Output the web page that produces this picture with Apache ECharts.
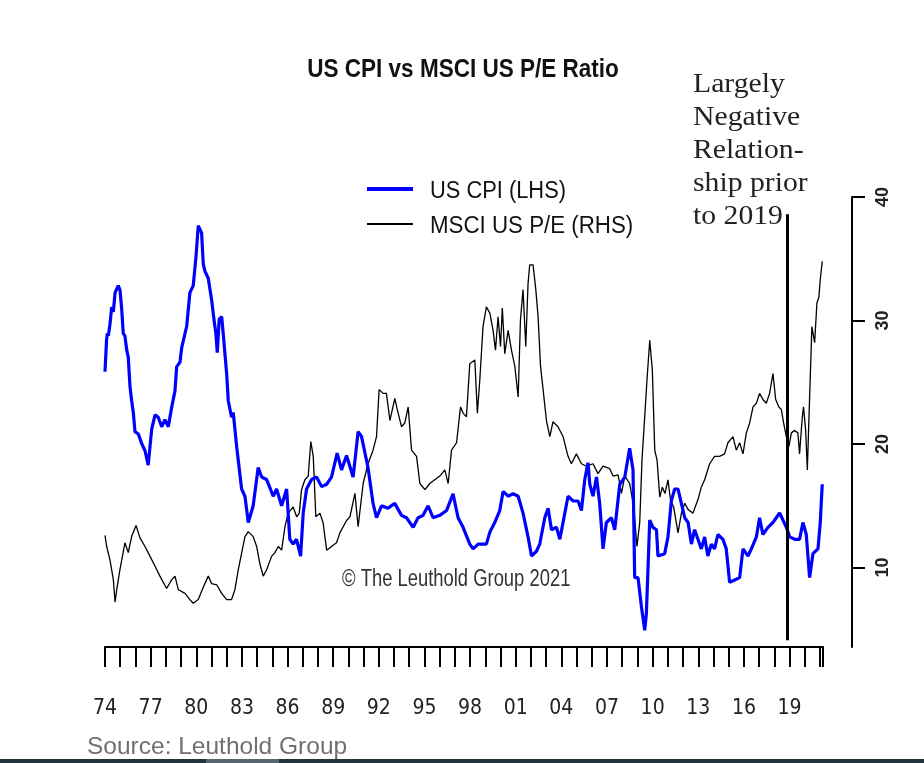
<!DOCTYPE html>
<html><head><meta charset="utf-8">
<script src="https://cdn.jsdelivr.net/npm/echarts@6/dist/echarts.min.js"></script>
<style>html,body{margin:0;padding:0;background:#fff}#c{width:924px;height:763px}</style>
</head><body><div id="c"></div>
<script>
// ---- data ----
const xLabelYears = [1974,1977,1980,1983,1986,1989,1992,1995,1998,2001,2004,2007,2010,2013,2016,2019];
const rightTicks = [10,20,30,40];
const dividerYear = 2018.85;
const dividerRange = [38.6, 4.1];
const seriesNames = ['US CPI (LHS)', 'MSCI US P/E (RHS)'];

const cpiYears = [1974.0,1974.1,1974.15,1974.22,1974.33,1974.44,1974.55,1974.66,1974.87,1974.99,1975.10,1975.20,1975.31,1975.43,1975.53,1975.64,1975.75,1975.86,1975.97,1976.19,1976.41,1976.63,1976.84,1977.07,1977.29,1977.50,1977.73,1977.94,1978.16,1978.38,1978.60,1978.71,1978.93,1979.04,1979.37,1979.58,1979.80,1979.98,1980.13,1980.35,1980.46,1980.57,1980.79,1981.01,1981.16,1981.29,1981.38,1981.51,1981.67,1981.77,1982.00,1982.10,1982.32,1982.43,1982.65,1982.98,1983.20,1983.42,1983.74,1984.07,1984.30,1984.62,1985.06,1985.28,1985.61,1985.94,1986.15,1986.37,1986.59,1986.86,1987.03,1987.25,1987.58,1987.91,1988.24,1988.57,1988.89,1989.26,1989.55,1989.88,1990.31,1990.64,1990.86,1991.29,1991.62,1991.85,1992.18,1992.61,1993.05,1993.49,1993.82,1994.26,1994.58,1994.91,1995.24,1995.57,1996.01,1996.45,1996.88,1997.21,1997.54,1997.98,1998.20,1998.53,1999.07,1999.30,1999.62,1999.95,2000.17,2000.50,2000.83,2001.16,2001.48,2001.81,2002.04,2002.36,2002.58,2002.91,2003.13,2003.35,2003.68,2003.90,2004.11,2004.44,2004.77,2005.10,2005.32,2005.54,2005.75,2005.87,2006.08,2006.31,2006.52,2006.74,2006.96,2007.29,2007.51,2007.84,2008.17,2008.49,2008.71,2008.82,2009.04,2009.26,2009.48,2009.59,2009.81,2010.02,2010.25,2010.35,2010.79,2011.01,2011.23,2011.45,2011.67,2011.89,2012.11,2012.33,2012.55,2012.76,2012.98,2013.20,2013.42,2013.63,2013.86,2014.07,2014.29,2014.62,2014.84,2015.06,2015.39,2015.72,2015.94,2016.27,2016.49,2016.82,2017.03,2017.25,2017.58,2017.91,2018.13,2018.35,2018.57,2018.79,2019.01,2019.34,2019.66,2019.88,2020.10,2020.32,2020.54,2020.87,2021.02,2021.15];
const cpiValues = [8.8,10.1,10.4,10.3,10.8,11.5,11.3,12.1,12.4,12.2,11.4,10.4,10.3,9.7,9.4,8.2,7.6,7.1,6.3,6.2,5.8,5.5,4.9,6.4,7.0,6.9,6.5,6.8,6.5,7.3,8.0,9.0,9.2,9.8,10.7,12.1,12.4,13.6,14.9,14.6,13.3,13.0,12.7,11.8,11.0,10.4,9.6,11.0,11.1,10.4,8.7,7.6,6.9,7.1,5.7,3.9,3.6,2.5,3.2,4.8,4.4,4.3,3.6,3.9,3.2,3.9,1.8,1.6,1.8,1.1,2.9,3.9,4.3,4.4,4.0,4.1,4.4,5.4,4.7,5.3,4.4,6.3,6.1,4.8,3.3,2.7,3.2,3.1,3.3,2.8,2.7,2.3,2.7,2.8,3.2,2.7,2.8,3.0,3.7,2.7,2.3,1.6,1.4,1.6,1.6,2.1,2.5,3.0,3.8,3.6,3.7,3.6,2.9,1.9,1.1,1.3,1.6,2.7,3.1,2.2,2.3,1.8,2.5,3.6,3.4,3.4,3.0,4.3,5.0,4.1,3.6,4.4,3.3,1.4,2.5,2.7,2.2,4.1,4.4,5.6,4.7,0.2,0.2,-1.0,-2.0,-1.3,2.6,2.3,2.2,1.1,1.2,1.9,3.4,3.9,3.9,3.3,2.7,2.5,1.6,2.2,1.8,1.4,1.9,1.1,1.6,1.4,2.0,1.8,1.4,0.0,0.1,0.2,1.4,1.1,1.4,1.9,2.7,2.0,2.3,2.5,2.7,2.9,2.6,2.3,1.9,1.8,1.8,2.5,2.0,0.2,1.2,1.4,2.5,4.1];

const peYears = [1974.0,1974.11,1974.33,1974.55,1974.66,1974.77,1974.98,1975.31,1975.53,1975.75,1976.04,1976.30,1976.63,1976.96,1977.29,1977.61,1978.05,1978.38,1978.60,1978.82,1979.26,1979.58,1979.80,1980.13,1980.46,1980.79,1981.01,1981.34,1981.67,1982.00,1982.32,1982.54,1982.76,1983.20,1983.42,1983.74,1983.97,1984.18,1984.40,1984.62,1984.95,1985.17,1985.39,1985.61,1985.83,1986.04,1986.37,1986.60,1986.77,1986.92,1987.14,1987.36,1987.53,1987.69,1987.86,1988.13,1988.34,1988.57,1988.89,1989.22,1989.44,1989.88,1990.10,1990.43,1990.64,1990.97,1991.29,1991.62,1991.85,1992.02,1992.28,1992.50,1992.73,1993.05,1993.27,1993.49,1993.71,1993.93,1994.15,1994.48,1994.70,1995.03,1995.35,1995.68,1996.01,1996.34,1996.56,1996.78,1997.11,1997.37,1997.54,1997.76,1997.98,1998.31,1998.48,1998.64,1998.85,1999.07,1999.30,1999.51,1999.67,1999.84,2000.00,2000.12,2000.28,2000.50,2000.72,2000.94,2001.16,2001.31,2001.48,2001.66,2001.81,2001.92,2002.14,2002.32,2002.47,2002.63,2002.80,2003.02,2003.24,2003.45,2003.78,2004.11,2004.44,2004.66,2004.99,2005.32,2005.65,2006.08,2006.41,2006.74,2007.18,2007.40,2007.73,2007.95,2008.17,2008.49,2008.76,2008.97,2009.15,2009.30,2009.48,2009.63,2009.81,2009.98,2010.14,2010.29,2010.47,2010.64,2010.81,2011.01,2011.17,2011.38,2011.67,2011.89,2012.11,2012.33,2012.65,2012.98,2013.20,2013.42,2013.75,2014.07,2014.40,2014.73,2014.95,2015.28,2015.50,2015.72,2015.94,2016.16,2016.38,2016.60,2016.82,2017.03,2017.25,2017.47,2017.69,2017.91,2018.09,2018.30,2018.46,2018.61,2018.79,2018.96,2019.12,2019.34,2019.55,2019.66,2019.84,2019.92,2020.06,2020.17,2020.32,2020.47,2020.65,2020.80,2020.93,2021.02,2021.15];
const peValues = [12.6,11.7,10.6,9.0,7.2,8.2,9.8,12.0,11.2,12.5,13.4,12.4,11.7,10.9,10.1,9.3,8.3,9.0,9.3,8.2,7.9,7.4,7.1,7.4,8.4,9.3,8.7,8.6,7.9,7.4,7.4,8.2,9.8,12.5,12.9,12.5,11.7,10.3,9.3,9.8,10.9,11.2,11.7,11.4,13.3,14.4,14.9,14.1,14.4,16.3,17.1,17.4,20.2,19.0,14.1,14.4,13.6,11.4,11.7,12.0,12.8,13.8,14.1,16.0,13.3,16.8,18.4,19.5,20.6,24.4,24.1,24.1,21.9,23.7,22.5,21.4,21.7,23.0,19.5,19.0,16.8,16.3,16.8,17.1,17.4,17.9,16.8,19.5,20.1,23.0,22.5,22.2,26.5,26.8,22.5,25.2,29.5,31.1,30.6,29.2,27.6,30.3,27.9,31.0,27.3,29.2,27.6,26.3,23.8,30.0,32.5,27.9,33.0,34.5,34.5,32.5,30.3,26.3,24.4,21.9,20.6,21.8,21.4,20.6,19.0,18.4,19.2,18.4,18.2,18.4,17.6,18.2,18.0,17.4,17.5,16.0,17.4,16.8,14.9,11.7,13.6,18.7,22.2,25.2,28.4,26.0,19.5,18.7,15.7,16.5,16.0,17.1,15.5,14.9,12.8,14.4,15.2,14.7,14.4,15.5,16.5,17.1,18.4,19.0,19.0,19.2,20.1,20.6,19.5,20.1,19.2,20.9,21.7,23.0,23.3,24.1,23.6,23.3,24.1,25.7,23.6,23.0,22.8,21.7,20.6,19.8,20.9,21.1,20.9,19.2,22.2,23.0,21.1,17.9,23.8,29.5,28.2,31.4,31.9,33.3,34.8];

// ---- chart ----
const SANS = "'Liberation Sans',Arial,sans-serif";
const NARROW = "'DejaVu Sans Condensed','Liberation Sans',sans-serif";
const chart = echarts.init(document.getElementById('c'), null, {renderer: 'canvas'});
const pair = (xs, ys) => xs.map((x, i) => [x, ys[i]]);

chart.setOption({
  backgroundColor: '#fff',
  animation: false,
  grid: {left: 105, right: 101, top: 197, bottom: 116},
  xAxis: {
    type: 'value', min: 1974, max: 2021.2, interval: 1,
    axisLine: {onZero: false, lineStyle: {color: '#000', width: 2}},
    axisTick: {length: 20, lineStyle: {color: '#000', width: 2}},
    splitLine: {show: false},
    axisLabel: {
      margin: 51, fontFamily: NARROW, fontSize: 21, color: '#222',
      formatter: v => xLabelYears.includes(v) ? String(v % 100).padStart(2, '0') : ''
    }
  },
  yAxis: [
    {type: 'value', min: -2.7, max: 16.1, show: false},
    {
      type: 'value', position: 'right', offset: 29, min: 3.56, max: 40,
      axisLine: {show: true, lineStyle: {color: '#000', width: 2}},
      axisTick: {show: true, length: 13, lineStyle: {color: '#000', width: 2}, customValues: rightTicks},
      axisLabel: {customValues: rightTicks, rotate: 90, margin: 22, fontSize: 18, fontWeight: 'bold', color: '#222', fontFamily: SANS},
      splitLine: {show: false}
    }
  ],
  series: [
    {
      name: seriesNames[1], type: 'line', yAxisIndex: 1,
      data: pair(peYears, peValues),
      symbol: 'none', showSymbol: false,
      lineStyle: {color: '#000', width: 1.3}, itemStyle: {color: '#000'},
      markLine: {
        silent: true, symbol: ['none', 'none'], label: {show: false},
        lineStyle: {color: '#000', width: 3, type: 'solid'},
        data: [[{coord: [dividerYear, dividerRange[0]]}, {coord: [dividerYear, dividerRange[1]]}]]
      }
    },
    {
      name: seriesNames[0], type: 'line', yAxisIndex: 0,
      data: pair(cpiYears, cpiValues),
      symbol: 'none', showSymbol: false,
      lineStyle: {color: '#0000ff', width: 3.2}, itemStyle: {color: '#0000ff'}
    }
  ],
  graphic: [
    // title
    {type: 'text', x: 463, y: 70, scaleX: 0.9,
     style: {text: 'US CPI vs MSCI US P/E Ratio', fontFamily: SANS, fontSize: 25, fontWeight: 'bold', fill: '#111', textAlign: 'center', textVerticalAlign: 'middle'}},
    // legend
    {type: 'line', shape: {x1: 367, y1: 189, x2: 413, y2: 189}, style: {stroke: '#0000ff', lineWidth: 4}},
    {type: 'line', shape: {x1: 367, y1: 224, x2: 413, y2: 224}, style: {stroke: '#000', lineWidth: 2}},
    {type: 'text', x: 430, y: 192, scaleX: 0.95,
     style: {text: seriesNames[0], fontFamily: SANS, fontSize: 23, fill: '#111', textVerticalAlign: 'middle'}},
    {type: 'text', x: 430, y: 227, scaleX: 0.97,
     style: {text: seriesNames[1], fontFamily: SANS, fontSize: 23, fill: '#111', textVerticalAlign: 'middle'}},
    // annotation
    {type: 'text', left: 693, top: 68, scaleX: 1.1,
     style: {text: 'Largely\nNegative\nRelation-\nship prior\nto 2019', fontFamily: "'Liberation Serif',serif", fontSize: 27, lineHeight: 33, fill: '#222'}},
    // copyright
    {type: 'text', x: 342, y: 580, scaleX: 0.8,
     style: {text: '\u00a9 The Leuthold Group 2021', fontFamily: SANS, fontSize: 23, fill: '#333', textVerticalAlign: 'middle'}},
    // source
    {type: 'text', left: 87, top: 735,
     style: {text: 'Source: Leuthold Group', fontFamily: SANS, fontSize: 24.5, fill: '#707070'}},
    {type: 'rect', left: 0, top: 759, shape: {width: 924, height: 4}, style: {fill: '#22353e'}},
    {type: 'rect', left: 206, top: 759, shape: {width: 73, height: 4}, style: {fill: '#566770'}}
  ]
});
</script></body></html>
